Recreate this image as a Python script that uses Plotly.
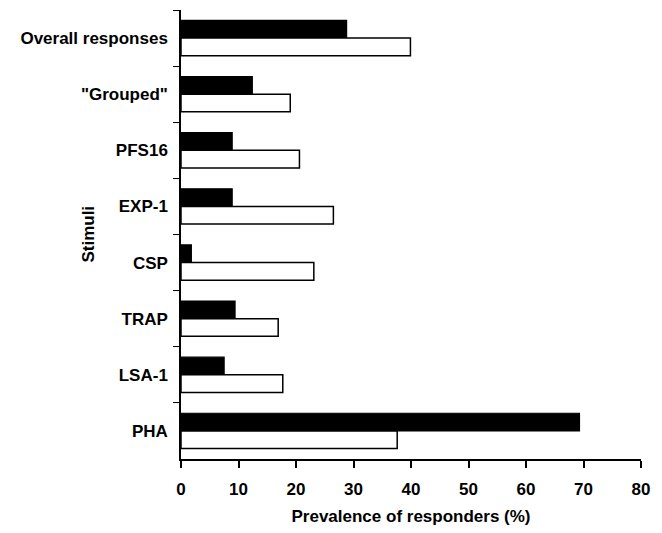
import plotly.graph_objects as go

categories = ["Overall responses", "\"Grouped\"", "PFS16", "EXP-1", "CSP", "TRAP", "LSA-1", "PHA"]
black_values = [28.8, 12.4, 8.9, 8.9, 1.8, 9.4, 7.5, 69.3]
white_values = [39.9, 19.0, 20.6, 26.5, 23.1, 16.9, 17.7, 37.6]
x_ticks = [0, 10, 20, 30, 40, 50, 60, 70, 80]

FONT = "Arial, 'Liberation Sans', sans-serif"

fig = go.Figure()
fig.add_trace(go.Bar(y=categories, x=black_values, orientation="h",
                     marker=dict(color="black", line=dict(color="black", width=1.2)),
                     showlegend=False))
fig.add_trace(go.Bar(y=categories, x=white_values, orientation="h",
                     marker=dict(color="white", line=dict(color="black", width=1.5)),
                     showlegend=False))

fig.update_layout(
    width=662, height=533,
    margin=dict(l=181, r=21, t=10, b=67),
    paper_bgcolor="white", plot_bgcolor="white",
    barmode="group", bargap=0.37, bargroupgap=0,
    font=dict(family=FONT, color="black", weight="bold"),
    xaxis=dict(range=[0, 80], tickvals=x_ticks, showgrid=False, zeroline=False,
               showline=True, linecolor="black", linewidth=1.5,
               ticks="outside", ticklen=7, tickwidth=1.5, tickcolor="black",
               ticklabelstandoff=7,
               tickfont=dict(size=17, family=FONT, weight="bold"),
               title=dict(text="Prevalence of responders (%)",
                          font=dict(size=17, family=FONT, weight="bold"), standoff=12)),
    yaxis=dict(autorange="reversed", type="category", showgrid=False, zeroline=False,
               showline=True, linecolor="black", linewidth=1.5,
               ticks="outside", ticklen=6, tickwidth=1.2, tickcolor="black",
               tickson="boundaries", ticklabelstandoff=8,
               tickfont=dict(size=17, family=FONT, weight="bold")),
    annotations=[dict(text="Stimuli", x=-0.202, y=0.5, xref="paper", yref="paper",
                      xanchor="center", yanchor="middle", textangle=-90, showarrow=False,
                      font=dict(size=17, family=FONT, weight="bold"))],
)

fig.write_html("out.html", config={"displayModeBar": False},
               post_script="document.body.style.margin='0';")
